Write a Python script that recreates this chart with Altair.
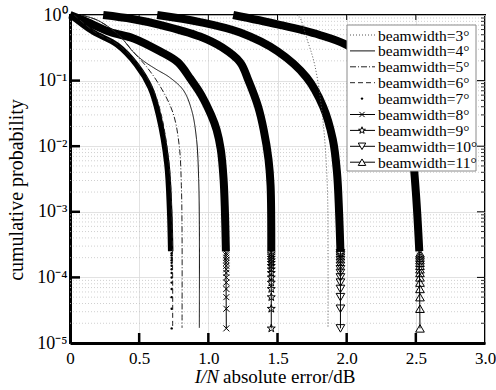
import altair as alt
import pandas as pd

series_names = ["beamwidth=3°", "beamwidth=4°", "beamwidth=5°", "beamwidth=6°",
                "beamwidth=7°", "beamwidth=8°", "beamwidth=9°", "beamwidth=10°", "beamwidth=11°"]

# thin line series
bw3_x = [1.64, 1.66, 1.71, 1.77, 1.83, 1.86, 1.865, 1.865]
bw3_p = [1.0, 0.93, 0.45, 0.17, 0.023, 0.0025, 3e-4, 1.7e-5]
bw4_x = [0.08, 0.2, 0.35, 0.46, 0.53, 0.62, 0.72, 0.82, 0.88, 0.915, 0.93, 0.935, 0.935]
bw4_p = [1.0, 0.83, 0.5, 0.27, 0.2, 0.15, 0.112, 0.071, 0.035, 0.0126, 0.0032, 6.3e-4, 1.7e-5]
bw5_x = [0.08, 0.2, 0.35, 0.46, 0.55, 0.65, 0.745, 0.79, 0.805, 0.81, 0.81]
bw5_p = [1.0, 0.83, 0.5, 0.27, 0.166, 0.083, 0.032, 0.01, 0.0025, 5e-4, 1.7e-5]
bw6_x = [0.03, 0.18, 0.35, 0.495, 0.595, 0.66, 0.715, 0.735, 0.742, 0.742]
bw6_p = [1.0, 0.55, 0.35, 0.174, 0.078, 0.030, 0.0055, 0.00107, 1e-4, 1.7e-5]

# thick (dense marker) series
bw7_x = [0.0, 0.166, 0.34, 0.48, 0.58, 0.64, 0.70, 0.72, 0.728]
bw7_p = [1.0, 0.55, 0.35, 0.174, 0.078, 0.030, 0.0055, 0.00107, 2.5e-4]
bw8_x = [0.0, 0.12, 0.29, 0.46, 0.65, 0.78, 0.87, 0.95, 1.02, 1.06, 1.09, 1.11, 1.12, 1.127]
bw8_p = [1.0, 0.79, 0.55, 0.44, 0.28, 0.19, 0.107, 0.060, 0.030, 0.0178, 0.0089, 0.0032, 0.001, 2.5e-4]
bw9_x = [0.24, 0.45, 0.65, 0.94, 1.1, 1.23, 1.29, 1.36, 1.40, 1.435, 1.45, 1.455]
bw9_p = [1.0, 0.87, 0.71, 0.47, 0.32, 0.19, 0.1, 0.04, 0.0178, 0.0063, 0.0025, 2.5e-4]
bw10_x = [0.63, 0.94, 1.23, 1.5, 1.71, 1.83, 1.90, 1.93, 1.945, 1.955]
bw10_p = [1.0, 0.78, 0.54, 0.28, 0.112, 0.04, 0.0126, 0.004, 0.001, 2.5e-4]
bw11_x = [1.18, 1.5, 1.8, 2.0, 2.2, 2.35, 2.44, 2.48, 2.5, 2.515, 2.525]
bw11_p = [1.0, 0.72, 0.5, 0.35, 0.178, 0.071, 0.022, 0.0063, 0.002, 6.3e-4, 2.5e-4]

# sparse tail markers (bottom of the thick series)
tail_x = [0.735, 1.13, 1.455, 1.955, 2.53]
tail_p = [1.67e-5, 3.33e-5, 5.0e-5, 6.67e-5, 8.33e-5, 1.0e-4, 1.17e-4, 1.33e-4,
          1.5e-4, 1.67e-4, 1.83e-4, 2.0e-4, 2.17e-4, 2.33e-4]

x_ticks = [0, 0.5, 1.0, 1.5, 2.0, 2.5, 3.0]
y_ticks = [1, 1e-1, 1e-2, 1e-3, 1e-4, 1e-5]
y_tick_labels = ["10⁰", "10⁻¹", "10⁻²", "10⁻³", "10⁻⁴", "10⁻⁵"]
y_minor = [m * 10.0 ** e for e in range(-5, 0) for m in range(2, 10)]

W, H = 415, 328
FONT = "Liberation Serif"

X_MARK = "M-1,-1L1,1M-1,1L1,-1"
STAR = ("M0,-1L0.235,-0.324L0.951,-0.309L0.380,0.124L0.588,0.809L0,0.4"
        "L-0.588,0.809L-0.380,0.124L-0.951,-0.309L-0.235,-0.324Z")

thin = [(bw3_x, bw3_p, [1, 2], "#555555"), (bw4_x, bw4_p, [1, 0], "#111111"),
        (bw5_x, bw5_p, [6, 2, 1, 2], "#222222"), (bw6_x, bw6_p, [5, 3], "#222222")]
thick = [(bw7_x, bw7_p, 5.5), (bw8_x, bw8_p, 8), (bw9_x, bw9_p, 8), (bw10_x, bw10_p, 8), (bw11_x, bw11_p, 8)]
tail_shapes = [("circle", 6, True), (X_MARK, 36, False), (STAR, 70, False),
               ("triangle-down", 75, False), ("triangle-up", 75, False)]

xs = alt.Scale(domain=[0, 3], nice=False)
ys = alt.Scale(type="log", domain=[1e-5, 1], nice=False)

lab_expr = "round(log(datum.value)/LN10)"
y_expr = " : ".join(f"{lab_expr} == {-k} ? '{t}'" for k, t in enumerate(y_tick_labels)) + " : ''"

x_axis = alt.Axis(values=x_ticks, labelExpr="datum.value == 0 ? '0' : format(datum.value, '.1f')",
                  grid=True, gridColor="#dadada", gridWidth=0.8, ticks=False,
                  domainColor="black", domainWidth=3, labelFont=FONT, labelFontSize=17,
                  labelColor="black", labelPadding=7, title=None, labelFlush=False)
y_axis = alt.Axis(values=y_ticks, labelExpr=y_expr, grid=True, gridColor="#dadada", gridWidth=0.8,
                  ticks=False, domainColor="black", domainWidth=3, labelFont=FONT, labelFontSize=18,
                  labelColor="black", labelPadding=3, title=None, labelFlush=False)

one = pd.DataFrame({"d": [0]})
layers = []

# minor dotted grid
layers.append(alt.Chart(pd.DataFrame({"v": y_minor})).mark_rule(
    color="#c4c4c4", strokeWidth=0.8, strokeDash=[1, 2]).encode(
    y=alt.Y("v:Q", scale=ys, axis=y_axis)))
# x axis carrier
layers.append(alt.Chart(pd.DataFrame({"x": x_ticks})).mark_rule(opacity=0).encode(
    x=alt.X("x:Q", scale=xs, axis=x_axis)))

# thick series
for k, (sx, sp, w) in enumerate(thick):
    df = pd.DataFrame({"x": sx, "p": sp, "i": range(len(sx))})
    layers.append(alt.Chart(df).mark_line(color="black", strokeWidth=w, interpolate="catmull-rom",
                                          strokeCap="butt").encode(
        x=alt.X("x:Q", scale=xs), y=alt.Y("p:Q", scale=ys), order="i:Q"))
    tdf = pd.DataFrame({"x": [tail_x[k]] * len(tail_p), "p": tail_p})
    if k > 0:
        conn = pd.DataFrame({"x": [tail_x[k], sx[-1]], "p": [tail_p[0], sp[-1]], "i": [0, 1]})
        layers.append(alt.Chart(conn).mark_line(color="black", strokeWidth=1).encode(
            x=alt.X("x:Q", scale=xs), y=alt.Y("p:Q", scale=ys), order="i:Q"))
    shp, sz, fl = tail_shapes[k]
    layers.append(alt.Chart(tdf).mark_point(shape=shp, size=sz, filled=fl, color="black",
                                            strokeWidth=1, opacity=1).encode(
        x=alt.X("x:Q", scale=xs), y=alt.Y("p:Q", scale=ys)))

# thin series
for sx, sp, dash, col in thin:
    df = pd.DataFrame({"x": sx, "p": sp, "i": range(len(sx))})
    layers.append(alt.Chart(df).mark_line(color=col, strokeWidth=1, strokeDash=dash,
                                          interpolate="catmull-rom").encode(
        x=alt.X("x:Q", scale=xs), y=alt.Y("p:Q", scale=ys), order="i:Q"))

# inward ticks
layers.append(alt.Chart(pd.DataFrame({"x": x_ticks[1:-1]})).mark_rule(color="black", strokeWidth=2.5).encode(
    x=alt.X("x:Q", scale=xs), y=alt.value(H), y2=alt.value(H - 10)))
layers.append(alt.Chart(pd.DataFrame({"x": x_ticks[1:-1]})).mark_rule(color="black", strokeWidth=1).encode(
    x=alt.X("x:Q", scale=xs), y=alt.value(0), y2=alt.value(5)))
layers.append(alt.Chart(pd.DataFrame({"v": y_ticks[1:-1]})).mark_rule(color="black", strokeWidth=2.5).encode(
    y=alt.Y("v:Q", scale=ys), x=alt.value(0), x2=alt.value(10)))
layers.append(alt.Chart(pd.DataFrame({"v": y_ticks[1:-1]})).mark_rule(color="black", strokeWidth=1).encode(
    y=alt.Y("v:Q", scale=ys), x=alt.value(W - 8), x2=alt.value(W)))
layers.append(alt.Chart(pd.DataFrame({"v": y_minor})).mark_rule(color="black", strokeWidth=0.8).encode(
    y=alt.Y("v:Q", scale=ys), x=alt.value(W - 4), x2=alt.value(W)))

# legend
layers.append(alt.Chart(one).mark_rect(fill="white", stroke="#8a8a8a", strokeWidth=1).encode(
    x=alt.value(277), x2=alt.value(406), y=alt.value(10), y2=alt.value(156)))
leg_dash = [[1, 2], [1, 0], [6, 2, 1, 2], [5, 3]]
for i, name in enumerate(series_names):
    yy = 20 + 15.9 * i
    if i < 4:
        layers.append(alt.Chart(one).mark_rule(color=thin[i][3], strokeWidth=1, strokeDash=leg_dash[i]).encode(
            x=alt.value(280), x2=alt.value(305), y=alt.value(yy)))
    elif i == 4:
        layers.append(alt.Chart(one).mark_point(shape="circle", size=6, filled=True, color="black",
                                                opacity=1).encode(x=alt.value(292), y=alt.value(yy)))
    else:
        layers.append(alt.Chart(one).mark_rule(color="black", strokeWidth=1).encode(
            x=alt.value(280), x2=alt.value(305), y=alt.value(yy)))
        shp, sz, fl = tail_shapes[i - 4]
        layers.append(alt.Chart(one).mark_point(shape=shp, size=sz * 0.75, filled=False, color="black",
                                                strokeWidth=1, opacity=1, fill="white").encode(
            x=alt.value(292), y=alt.value(yy)))
    layers.append(alt.Chart(one).mark_text(text=name, font=FONT, fontSize=15.5, align="left",
                                           baseline="middle", color="black").encode(
        x=alt.value(308), y=alt.value(yy + 0.5)))

# titles
layers.append(alt.Chart(one).mark_text(text="cumulative probability", font=FONT, fontSize=20, angle=270,
                                       align="center", baseline="middle", color="black").encode(
    x=alt.value(-53), y=alt.value(175)))
layers.append(alt.Chart(one).mark_text(text="I/N", font=FONT, fontSize=19, fontStyle="italic",
                                       align="right", baseline="alphabetic", color="black").encode(
    x=alt.value(149), y=alt.value(368)))
layers.append(alt.Chart(one).mark_text(text="absolute error/dB", font=FONT, fontSize=19,
                                       align="left", baseline="alphabetic", color="black").encode(
    x=alt.value(153), y=alt.value(368)))

chart = alt.layer(*layers).properties(
    width=W, height=H,
    autosize=alt.AutoSizeParams(type="none"),
    padding={"left": 70, "top": 15, "right": 11, "bottom": 47},
    background="white",
).configure_view(stroke="black", strokeWidth=2)

chart.save("out.html", embed_options={"renderer": "svg", "actions": False})
